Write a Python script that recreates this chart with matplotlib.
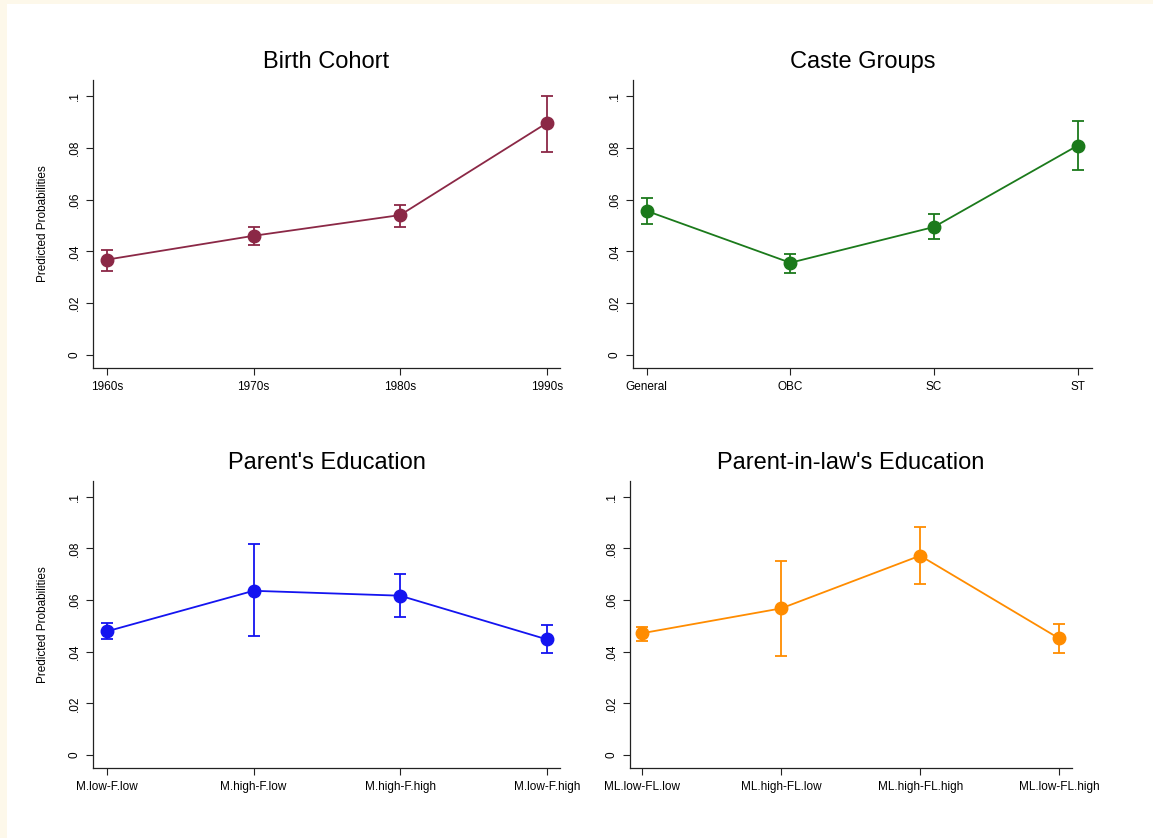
import numpy as np
import matplotlib
matplotlib.use('Agg')
import matplotlib.pyplot as plt
from matplotlib.patches import Rectangle

plt.rcParams['font.family'] = ['Liberation Sans', 'DejaVu Sans']

# data
cohort_labels = ['1960s', '1970s', '1980s', '1990s']
cohort_est = [0.0368, 0.046, 0.054, 0.0895]
cohort_lo = [0.0326, 0.0425, 0.0494, 0.0785]
cohort_hi = [0.0406, 0.0494, 0.058, 0.1]

caste_labels = ['General', 'OBC', 'SC', 'ST']
caste_est = [0.0556, 0.0356, 0.0494, 0.0808]
caste_lo = [0.0506, 0.0318, 0.0448, 0.0713]
caste_hi = [0.0605, 0.039, 0.0544, 0.0904]

parent_labels = ['M.low-F.low', 'M.high-F.low', 'M.high-F.high', 'M.low-F.high']
parent_est = [0.0479, 0.0636, 0.0617, 0.0448]
parent_lo = [0.0448, 0.046, 0.0536, 0.0395]
parent_hi = [0.051, 0.0816, 0.0701, 0.0502]

inlaw_labels = ['ML.low-FL.low', 'ML.high-FL.low', 'ML.high-FL.high', 'ML.low-FL.high']
inlaw_est = [0.0472, 0.0568, 0.0772, 0.0452]
inlaw_lo = [0.0443, 0.0385, 0.0664, 0.0396]
inlaw_hi = [0.0495, 0.0753, 0.0884, 0.0506]

W, H = 1153, 838
fig = plt.figure(figsize=(W / 100, H / 100), dpi=100)
fig.patch.set_facecolor('#fdf8ea')
fig.patches.append(Rectangle((7 / W, 0), 1, 1 - 4 / H, transform=fig.transFigure,
                             facecolor='white', edgecolor='none', zorder=-10))

yticks = [0, 0.02, 0.04, 0.06, 0.08, 0.1]
ytlabels = ['0', '.02', '.04', '.06', '.08', '.1']


def panel(box, title, labels, est, lo, hi, color, xlim, ylabel):
    # box in pixels: left, top, right, bottom
    l, t, r, b = box
    ax = fig.add_axes([l / W, 1 - b / H, (r - l) / W, (b - t) / H])
    ax.set_facecolor('none')
    x = np.arange(len(labels))
    est = np.array(est)
    yerr = [est - np.array(lo), np.array(hi) - est]
    ax.errorbar(x, est, yerr=yerr, color=color, marker='o', markersize=9,
                linewidth=1.3, elinewidth=1.3, capsize=4.5, capthick=1.3)
    ax.set_xlim(*xlim)
    ax.set_ylim(-0.005, 0.1061)
    ax.set_xticks(x)
    ax.set_xticklabels(labels, fontsize=8.5)
    ax.set_yticks(yticks)
    ax.set_yticklabels(ytlabels, fontsize=8.5, rotation=90, va='center')
    ax.tick_params(direction='out', length=5, width=0.8, color='#222222', pad=4)
    for s in ['top', 'right']:
        ax.spines[s].set_visible(False)
    for s in ['left', 'bottom']:
        ax.spines[s].set_linewidth(0.9)
        ax.spines[s].set_color('#222222')
    if ylabel:
        ax.set_ylabel('Predicted Probabilities', fontsize=8.5, labelpad=14)
    fig.text((l + r) / 2 / W, 1 - (t - 18) / H, title, ha='center', va='center',
             fontsize=17)
    return ax


panel((93, 80, 560, 368), 'Birth Cohort', cohort_labels, cohort_est, cohort_lo, cohort_hi,
      '#8b2846', (-0.095, 3.09), True)
panel((633, 80, 1092, 368), 'Caste Groups', caste_labels, caste_est, caste_lo, caste_hi,
      '#1b7a1b', (-0.095, 3.1), False)
panel((93, 481, 560, 768), "Parent's Education", parent_labels, parent_est, parent_lo, parent_hi,
      '#1414f0', (-0.095, 3.09), True)
panel((630, 481, 1072, 768), "Parent-in-law's Education", inlaw_labels, inlaw_est, inlaw_lo, inlaw_hi,
      '#ff8c00', (-0.09, 3.094), False)

fig.savefig('out.png', dpi=100)
